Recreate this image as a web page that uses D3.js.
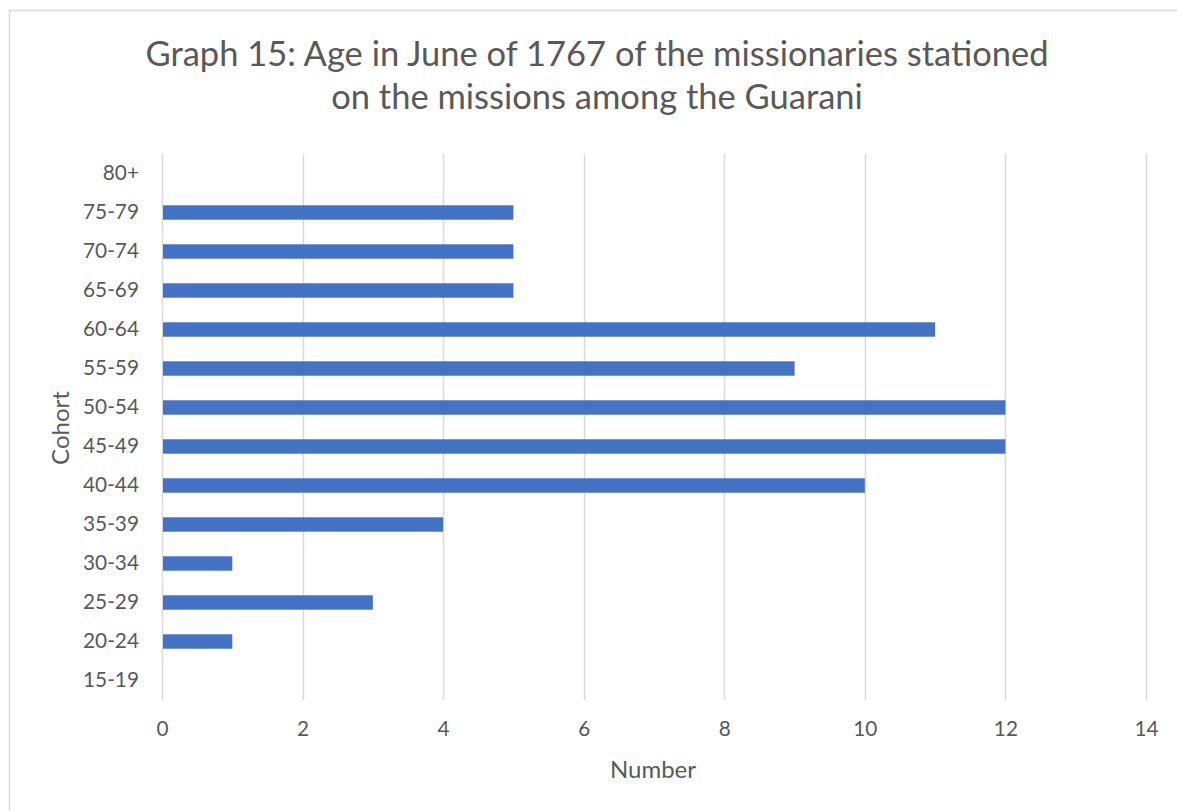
<!DOCTYPE html>
<html>
<head>
<meta charset="utf-8">
<script src="https://cdn.jsdelivr.net/npm/d3@7/dist/d3.min.js"></script>
<style>
  html, body { margin: 0; padding: 0; background: #ffffff; }
  svg { display: block; }
  text { font-family: Lato, "Open Sans", sans-serif; fill: #595959; }
</style>
</head>
<body>
<svg id="chart" width="1177" height="811"></svg>
<script>
// Age cohorts, bottom to top
const cohorts = ["15-19", "20-24", "25-29", "30-34", "35-39", "40-44", "45-49",
                 "50-54", "55-59", "60-64", "65-69", "70-74", "75-79", "80+"];
// Number of missionaries in each cohort
const counts = [0, 1, 3, 1, 4, 10, 12, 12, 9, 11, 5, 5, 5, 0];
// Horizontal axis ticks
const xTicks = [0, 2, 4, 6, 8, 10, 12, 14];
const titleLines = ["Graph 15: Age in June of 1767 of the missionaries stationed",
                    "on the missions among the Guarani"];

const svg = d3.select("#chart");

// chart frame
svg.append("rect")
  .attr("x", 9.5).attr("y", 10.5)
  .attr("width", 1200).attr("height", 900)
  .attr("fill", "#ffffff")
  .attr("stroke", "#d9d9d9").attr("stroke-width", 1.5);

const plot = { left: 162, right: 1146, top: 154, bottom: 700 };

const x = d3.scaleLinear().domain([0, 14]).range([plot.left, plot.right]);
const y = d3.scaleBand().domain(cohorts.slice().reverse())
  .range([plot.top, plot.bottom]).paddingInner(0.63).paddingOuter(0.315);

// vertical gridlines
svg.append("g").selectAll("line").data(xTicks).join("line")
  .attr("x1", d => Math.round(x(d)) + 0.5).attr("x2", d => Math.round(x(d)) + 0.5)
  .attr("y1", plot.top).attr("y2", plot.bottom)
  .attr("stroke", "#d9d9d9").attr("stroke-width", 1.5);

// bars
svg.append("g").selectAll("rect").data(cohorts.map((c, i) => ({ c, v: counts[i] })))
  .join("rect")
  .attr("x", x(0) + 1)
  .attr("y", d => y(d.c))
  .attr("width", d => Math.max(0, x(d.v) - x(0) - 1))
  .attr("height", y.bandwidth())
  .attr("fill", "#4472c4");

// category labels
const yAxis = d3.axisLeft(y).tickSize(0).tickPadding(23);
const gy = svg.append("g").attr("transform", `translate(${plot.left},0)`).call(yAxis);
gy.select(".domain").remove();
gy.selectAll("text").attr("font-size", 20.8).attr("fill", "#595959")
  .style("font-family", "Lato, 'Open Sans', sans-serif");

// value labels
const xAxis = d3.axisBottom(x).tickValues(xTicks).tickSize(0).tickPadding(21);
const gx = svg.append("g").attr("transform", `translate(0,${plot.bottom})`).call(xAxis);
gx.select(".domain").remove();
gx.selectAll("text").attr("font-size", 20.8).attr("fill", "#595959")
  .style("font-family", "Lato, 'Open Sans', sans-serif");

// title
svg.append("g").selectAll("text").data(titleLines).join("text")
  .attr("x", 597).attr("y", (d, i) => 66 + i * 43)
  .attr("text-anchor", "middle")
  .attr("font-size", 34.5)
  .text(d => d);

// axis titles
svg.append("text")
  .attr("x", 653).attr("y", 778)
  .attr("text-anchor", "middle").attr("font-size", 24)
  .text("Number");

svg.append("text")
  .attr("transform", "translate(69,428) rotate(-90)")
  .attr("text-anchor", "middle").attr("font-size", 24)
  .text("Cohort");
</script>
</body>
</html>
